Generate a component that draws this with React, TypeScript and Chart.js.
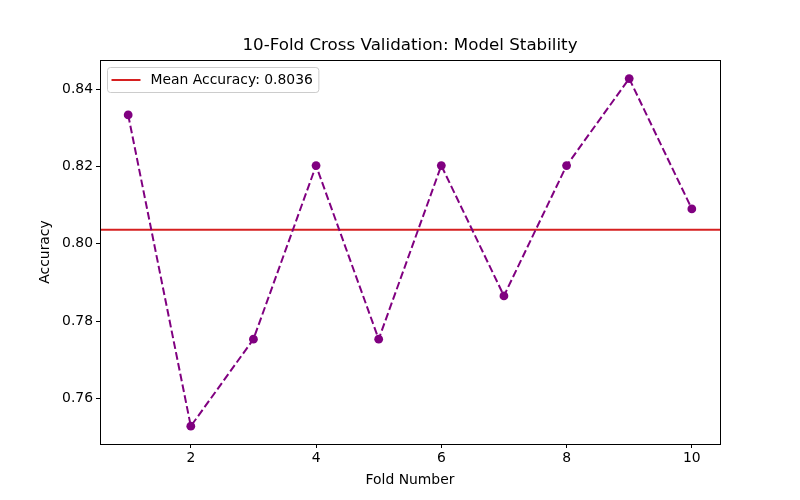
import React, { useEffect, useRef } from "react";
import { Chart, registerables } from "chart.js";

Chart.register(...registerables);

const folds = [1, 2, 3, 4, 5, 6, 7, 8, 9, 10];
const accuracies = [0.8333, 0.7528, 0.7753, 0.8202, 0.7753, 0.8202, 0.7865, 0.8202, 0.8427, 0.809];
const meanAccuracy = 0.8036;
const xTicks = [2, 4, 6, 8, 10];
const yTicks = [0.76, 0.78, 0.8, 0.82, 0.84];
const titleText = "10-Fold Cross Validation: Model Stability";
const xLabel = "Fold Number";
const yLabel = "Accuracy";
const legendLabel = "Mean Accuracy: 0.8036";

const FONT = "'DejaVu Sans', sans-serif";
const MEAN_COLOR = "#d62020";
const POINT_COLOR = "#800080";

export default function App() {
  const ref = useRef<HTMLCanvasElement>(null);

  useEffect(() => {
    document.body.style.margin = "0";
    const canvas = ref.current!;
    const decor = {
      id: "decor",
      afterDraw(chart: any) {
        const { ctx, chartArea } = chart;
        const { left, right, top, bottom } = chartArea;
        ctx.save();
        // frame
        ctx.strokeStyle = "#000";
        ctx.lineWidth = 1;
        ctx.strokeRect(Math.round(left) + 0.5, Math.round(top) + 0.5, Math.round(right - left), Math.round(bottom - top));
        // title
        ctx.fillStyle = "#000";
        ctx.font = `16.7px ${FONT}`;
        ctx.textAlign = "center";
        ctx.textBaseline = "middle";
        ctx.fillText(titleText, (left + right) / 2, 46);
        // legend
        ctx.font = `13.9px ${FONT}`;
        const tw = ctx.measureText(legendLabel).width;
        const bx = left + 7.5, by = top + 7.5;
        const bw = 43 + tw + 6, bh = 25;
        ctx.beginPath();
        const r = 3;
        ctx.moveTo(bx + r, by);
        ctx.arcTo(bx + bw, by, bx + bw, by + bh, r);
        ctx.arcTo(bx + bw, by + bh, bx, by + bh, r);
        ctx.arcTo(bx, by + bh, bx, by, r);
        ctx.arcTo(bx, by, bx + bw, by, r);
        ctx.closePath();
        ctx.fillStyle = "rgba(255,255,255,0.8)";
        ctx.fill();
        ctx.strokeStyle = "#cccccc";
        ctx.stroke();
        ctx.strokeStyle = MEAN_COLOR;
        ctx.lineWidth = 2;
        ctx.beginPath();
        ctx.moveTo(bx + 4, by + bh / 2);
        ctx.lineTo(bx + 33, by + bh / 2);
        ctx.stroke();
        ctx.fillStyle = "#000";
        ctx.textAlign = "left";
        ctx.fillText(legendLabel, bx + 43, by + bh / 2 + 0.5);
        ctx.restore();
      },
    };

    const chart = new Chart(canvas, {
      type: "scatter",
      data: {
        datasets: [
          {
            type: "line",
            label: "Fold Accuracy",
            data: folds.map((f, i) => ({ x: f, y: accuracies[i] })),
            borderColor: POINT_COLOR,
            backgroundColor: POINT_COLOR,
            borderWidth: 2,
            borderDash: [7.7, 3.3],
            pointRadius: 4.4,
            pointBorderWidth: 0,
            pointBackgroundColor: POINT_COLOR,
            showLine: true,
            tension: 0,
            order: 1,
          },
          {
            type: "line",
            label: legendLabel,
            data: [
              { x: 0, y: meanAccuracy },
              { x: 12, y: meanAccuracy },
            ],
            borderColor: MEAN_COLOR,
            borderWidth: 2,
            pointRadius: 0,
            showLine: true,
            order: 2,
          },
        ],
      },
      options: {
        responsive: false,
        animation: false,
        layout: { padding: { top: 60, right: 80, left: 0, bottom: 0 } },
        plugins: {
          legend: { display: false },
          title: { display: false },
          tooltip: { enabled: false },
        },
        scales: {
          x: {
            type: "linear",
            min: 0.55,
            max: 10.45,
            afterBuildTicks: (s: any) => {
              s.ticks = xTicks.map((v) => ({ value: v }));
            },
            afterFit: (s: any) => {
              s.height = 56;
            },
            grid: { drawOnChartArea: false, drawTicks: true, tickLength: 4, color: "#000" },
            border: { display: true, color: "#000" },
            ticks: { color: "#000", font: { family: FONT, size: 13.9 }, padding: 2, maxRotation: 0 },
            title: {
              display: true,
              text: xLabel,
              color: "#000",
              font: { family: FONT, size: 13.9 },
              padding: { top: 0, bottom: 11 },
            },
          },
          y: {
            type: "linear",
            min: 0.7482,
            max: 0.8475,
            afterBuildTicks: (s: any) => {
              s.ticks = yTicks.map((v) => ({ value: v }));
            },
            afterFit: (s: any) => {
              s.width = 100;
            },
            grid: { drawOnChartArea: false, drawTicks: true, tickLength: 4, color: "#000" },
            border: { display: true, color: "#000" },
            ticks: {
              color: "#000",
              font: { family: FONT, size: 13.9 },
              padding: 3,
              callback: (v: any) => Number(v).toFixed(2),
            },
            title: {
              display: true,
              text: yLabel,
              color: "#000",
              font: { family: FONT, size: 13.9 },
              padding: { top: 37, bottom: 0 },
            },
          },
        },
      },
      plugins: [decor],
    } as any);
    return () => chart.destroy();
  }, []);

  return (
    <div style={{ width: 800, height: 500, background: "#fff" }}>
      <canvas ref={ref} width={800} height={500} />
    </div>
  );
}
